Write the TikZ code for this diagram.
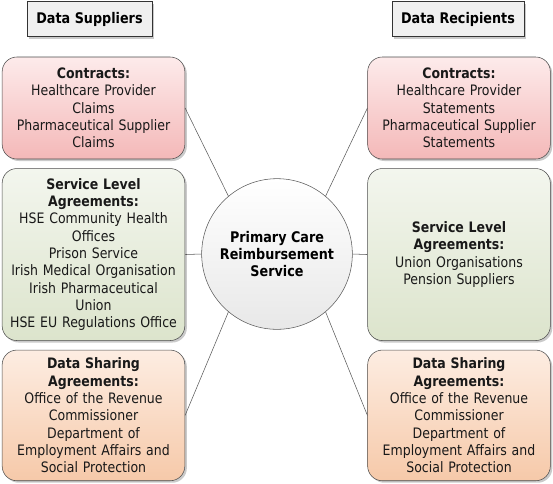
\documentclass[tikz,border=0pt]{standalone}
\usepackage{fontspec}
\setmainfont{DejaVu Sans}[FakeStretch=0.87]
\usetikzlibrary{shapes,positioning,shadows}

\definecolor{slatop}{HTML}{F3F6EE}
\definecolor{slabot}{HTML}{DCE4CC}
\definecolor{dsatop}{HTML}{FDEDE2}
\definecolor{dsabot}{HTML}{F6C9A9}
\definecolor{contop}{HTML}{FDEBEB}
\definecolor{conbot}{HTML}{F4B8B8}

\begin{document}
\begin{tikzpicture}[x=0.75pt, y=-0.75pt, node distance=6.75pt,
    font=\fontsize{10.8}{13}\selectfont]
    % Styles
    \tikzstyle{shade} = [drop shadow={shadow xshift=1.5pt, shadow yshift=-1.5pt, opacity=0.35, fill=black!60}]
    \tikzstyle{header} = [rectangle, draw=black!80, fill=black!6, minimum height=26.25pt, font=\fontsize{11}{13}\selectfont\bfseries, shade]
    \tikzstyle{agree} = [rectangle, draw=black!70, rounded corners=11pt, text width=133pt, inner sep=2pt, align=center, text=black!90, shade]
    \tikzstyle{contract} = [agree, top color=contop, bottom color=conbot, minimum height=76.5pt]
    \tikzstyle{service} = [agree, top color=slatop, bottom color=slabot, minimum height=129pt]
    \tikzstyle{sharing} = [agree, top color=dsatop, bottom color=dsabot, minimum height=98pt]
    \tikzstyle{hub} = [circle, draw=black!65, top color=white, bottom color=black!9, minimum size=113pt, align=center, font=\fontsize{11}{13}\selectfont\bfseries]
    \tikzstyle{link} = [draw=black!65]

    \useasboundingbox (0,0) rectangle (553,483);

    % Headers
    \node [header, minimum width=93.75pt] (supp) at (89.5,19) {Data Suppliers};
    \node [header, minimum width=99pt] (recp) at (458,19) {Data Recipients};

    % Centre
    \node [hub] (pcrs) at (277,254) {Primary Care\\Reimbursement\\Service};

    % Suppliers
    \node [contract] (lcon) at (93.5,108) {\textbf{Contracts:}\\Healthcare Provider\\Claims\\Pharmaceutical Supplier\\Claims};
    \node [service, below=of lcon] (lsla) {\textbf{Service Level}\\\textbf{Agreements:}\\HSE Community Health\\Offices\\Prison Service\\Irish Medical Organisation\\Irish Pharmaceutical\\Union\\HSE EU Regulations Office};
    \node [sharing, below=of lsla] (ldsa) {\textbf{Data Sharing}\\\textbf{Agreements:}\\Office of the Revenue\\Commissioner\\Department of\\Employment Affairs and\\Social Protection};

    % Recipients
    \node [contract] (rcon) at (459,108) {\textbf{Contracts:}\\Healthcare Provider\\Statements\\Pharmaceutical Supplier\\Statements};
    \node [service, below=of rcon] (rsla) {\textbf{Service Level}\\\textbf{Agreements:}\\Union Organisations\\Pension Suppliers};
    \node [sharing, below=of rsla] (rdsa) {\textbf{Data Sharing}\\\textbf{Agreements:}\\Office of the Revenue\\Commissioner\\Department of\\Employment Affairs and\\Social Protection};

    % Links
    \draw [link] (pcrs.130) -- (lcon.east);
    \draw [link] (pcrs.west) -- (lsla.east);
    \draw [link] (pcrs.230) -- (ldsa.east);
    \draw [link] (pcrs.50) -- (rcon.west);
    \draw [link] (pcrs.east) -- (rsla.west);
    \draw [link] (pcrs.-50) -- (rdsa.west);
\end{tikzpicture}
\end{document}
